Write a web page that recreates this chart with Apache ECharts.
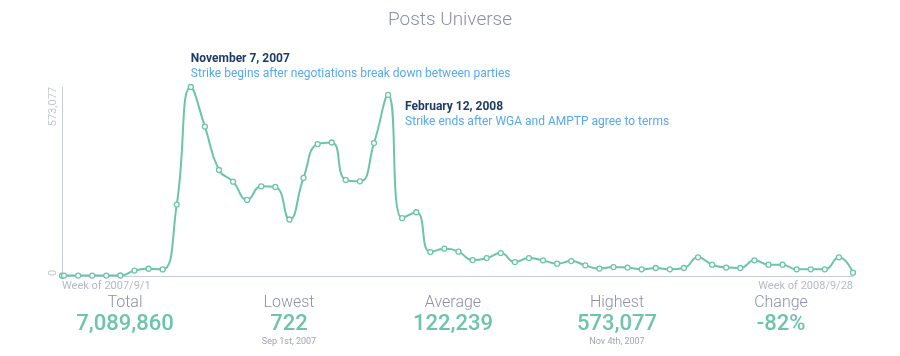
<!DOCTYPE html>
<html>
<head>
<meta charset="utf-8">
<script src="https://cdn.jsdelivr.net/npm/echarts@6/dist/echarts.min.js"></script>
<style>
html,body{margin:0;padding:0;background:#fff;}
#chart{width:900px;height:356px;}
</style>
</head>
<body>
<div id="chart"></div>
<script>
// ---- data ----
const weeks = [
  '2007-09-01','2007-09-02','2007-09-09','2007-09-16','2007-09-23','2007-09-30',
  '2007-10-07','2007-10-14','2007-10-21','2007-10-28','2007-11-04','2007-11-11',
  '2007-11-18','2007-11-25','2007-12-02','2007-12-09','2007-12-16','2007-12-23',
  '2007-12-30','2008-01-06','2008-01-13','2008-01-20','2008-01-27','2008-02-03',
  '2008-02-10','2008-02-17','2008-02-24','2008-03-02','2008-03-09','2008-03-16',
  '2008-03-23','2008-03-30','2008-04-06','2008-04-13','2008-04-20','2008-04-27',
  '2008-05-04','2008-05-11','2008-05-18','2008-05-25','2008-06-01','2008-06-08',
  '2008-06-15','2008-06-22','2008-06-29','2008-07-06','2008-07-13','2008-07-20',
  '2008-07-27','2008-08-03','2008-08-10','2008-08-17','2008-08-24','2008-08-31',
  '2008-09-07','2008-09-14','2008-09-21','2008-09-28'
];
const posts = [
  722, 1300, 1200, 1400, 1300, 1500,
  16300, 22000, 20000, 216600, 573077, 453100,
  321400, 286000, 230800, 271900, 270000, 171300,
  297300, 400000, 404800, 291200, 287000, 403000,
  548900, 175200, 193300, 72500, 82800, 73700,
  48300, 54400, 69500, 42300, 54400, 47400,
  37500, 45300, 32300, 22400, 27200, 25400,
  20200, 24200, 20200, 24200, 56500, 34400,
  25400, 24200, 47400, 34400, 34400, 20200,
  20200, 20200, 56500, 10200
];
const xTickLabels = ['Week of 2007/9/1', 'Week of 2008/9/28'];
const yTickLabels = ['0', '573,077'];
const yMax = 573077;
const titleText = 'Posts Universe';
const annotations = [
  { date: '2007-11-07', title: 'November 7, 2007', text: 'Strike begins after negotiations break down between parties' },
  { date: '2008-02-12', title: 'February 12, 2008', text: 'Strike ends after WGA and AMPTP agree to terms' }
];
const statLabels = ['Total', 'Lowest', 'Average', 'Highest', 'Change'];
const statValues = ['7,089,860', '722', '122,239', '573,077', '-82%'];
const statNotes = ['', 'Sep 1st, 2007', '', 'Nov 4th, 2007', ''];

// ---- build ----
const DAY = 86400000;
const t0 = Date.parse(weeks[0] + 'T00:00:00Z');
const dayOf = s => Math.round((Date.parse(s + 'T00:00:00Z') - t0) / DAY);
const xMax = dayOf(weeks[weeks.length - 1]);
const seriesData = weeks.map((w, i) => [dayOf(w), posts[i]]);

const TEAL = '#6cc4aa';
const GREY = '#8a90a8';
const chart = echarts.init(document.getElementById('chart'), null, { renderer: 'canvas' });

const option = {
  animation: false,
  textStyle: { fontFamily: 'Roboto' },
  title: {
    text: titleText, left: 'center', top: 6,
    textStyle: { fontFamily: 'Roboto', fontSize: 19, fontWeight: 300, color: GREY }
  },
  grid: { left: 62, right: 47, top: 87, bottom: 80 },
  xAxis: {
    type: 'value', min: 0, max: xMax, interval: xMax,
    axisLine: { show: true, lineStyle: { color: '#c9cdda', width: 1 } },
    axisTick: { show: false },
    splitLine: { show: false },
    axisLabel: {
      color: '#b4b8c8', fontSize: 11, margin: 5,
      alignMinLabel: 'left', alignMaxLabel: 'right',
      formatter: v => (v === 0 ? xTickLabels[0] : xTickLabels[1])
    }
  },
  yAxis: {
    type: 'value', min: 0, max: yMax, interval: yMax,
    axisLine: { show: true, lineStyle: { color: '#c9cdda', width: 1 } },
    axisTick: { show: false },
    splitLine: { show: false },
    axisLabel: {
      color: '#c3c7d3', fontSize: 11, rotate: 90, margin: 3,
      alignMinLabel: 'left', alignMaxLabel: 'right',
      formatter: v => (v === 0 ? yTickLabels[0] : yTickLabels[1])
    }
  },
  series: [{
    type: 'line',
    data: seriesData,
    smooth: 0.5,
    symbol: 'circle',
    symbolSize: 5,
    showAllSymbol: true,
    lineStyle: { color: TEAL, width: 2 },
    itemStyle: { color: '#fff', borderColor: TEAL, borderWidth: 1.3 },
    emphasis: { disabled: true }
  }]
};
chart.setOption(option);

// annotations & stats
const g = [];
const annY = [60, 108];
const annDx = [-6, 13];
annotations.forEach((a, i) => {
  const px = chart.convertToPixel({ gridIndex: 0 }, [dayOf(a.date), 0])[0];
  const x = px + annDx[i];
  g.push({ type: 'text', left: x, top: annY[i] - 7, style: { text: a.title, fill: '#1e3d66', font: 'bold 12px Roboto' } });
  g.push({ type: 'text', left: x, top: annY[i] + 8, style: { text: a.text, fill: '#58a8f0', font: '12px Roboto' } });
});
const colW = 164, colStart = 43;
statLabels.forEach((lab, i) => {
  const cx = colStart + colW * i + colW / 2;
  g.push({ type: 'text', x: cx, y: 303, style: { text: lab, fill: GREY, font: '300 16px Roboto', align: 'center', verticalAlign: 'middle' } });
  g.push({ type: 'text', x: cx, y: 324, style: { text: statValues[i], fill: TEAL, font: '500 22px Roboto', align: 'center', verticalAlign: 'middle' } });
  if (statNotes[i]) {
    g.push({ type: 'text', x: cx, y: 342, style: { text: statNotes[i], fill: '#9ea3b6', font: '9px Roboto', align: 'center', verticalAlign: 'middle' } });
  }
});
chart.setOption({ graphic: g });
</script>
</body>
</html>
